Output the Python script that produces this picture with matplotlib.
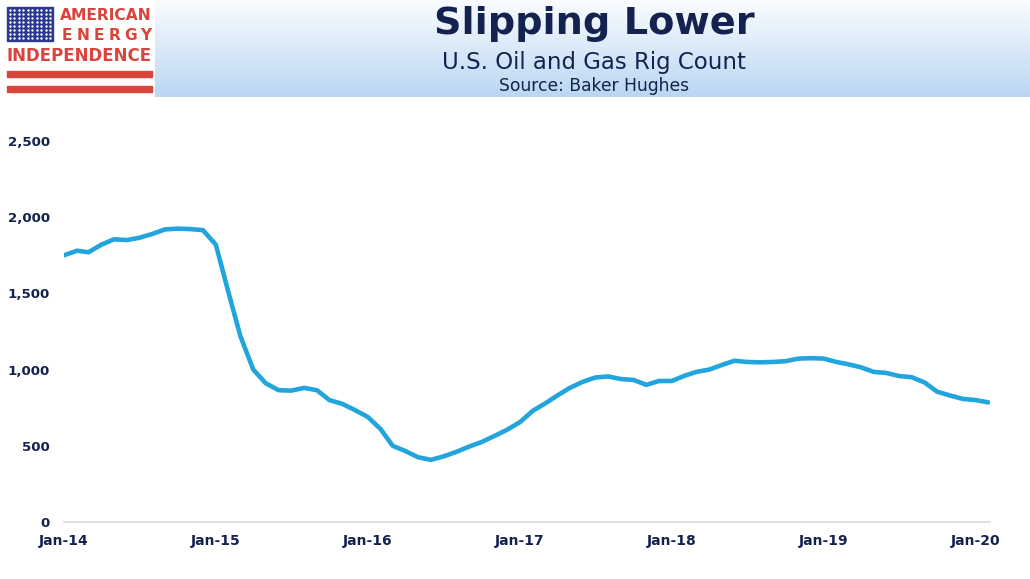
import numpy as np
import pandas as pd
import matplotlib
matplotlib.use("Agg")
import matplotlib.pyplot as plt
import matplotlib.dates as mdates
from matplotlib.patches import Rectangle

# monthly rig count, Jan 2014 .. Feb 2020
months = pd.date_range("2014-01-01", "2020-02-01", freq="MS")
rigs = [1750, 1780, 1770, 1820, 1855, 1850, 1865, 1890, 1920, 1925, 1922, 1915,
        1820, 1500, 1220, 1000, 910, 865, 862, 880, 865, 800, 775, 735,
        690, 610, 500, 465, 425, 408, 430, 460, 495, 525, 565, 605,
        655, 730, 775, 830, 880, 920, 948, 955, 938, 932, 900, 925,
        925, 960, 985, 1000, 1030, 1058, 1050, 1048, 1050, 1055, 1072, 1075,
        1072, 1050, 1035, 1015, 985, 978, 958, 950, 915, 855, 830, 808,
        800, 785]

title = "Slipping Lower"
subtitle = "U.S. Oil and Gas Rig Count"
source = "Source: Baker Hughes"
yticks = [0, 500, 1000, 1500, 2000, 2500]

navy = "#14224f"
line_blue = "#22a5dc"
red = "#d9443c"

W, H = 1030, 579
fig = plt.figure(figsize=(W / 100, H / 100), dpi=100)
fig.patch.set_facecolor("white")

#%% header band with gradient
hdr = fig.add_axes([155 / W, 1 - 97 / H, 1 - 155 / W, 97 / H])
grad = np.linspace(0, 1, 100)[:, None]
top = np.array([0.98, 0.99, 1.0])
bot = np.array([0.73, 0.84, 0.95])
img = top[None, None, :] * (1 - grad[:, :, None]) + bot[None, None, :] * grad[:, :, None]
img = np.repeat(img, 2, axis=1)
hdr.imshow(img, aspect="auto", extent=[0, 1, 1, 0])
hdr.set_xlim(0, 1)
hdr.set_ylim(1, 0)
hdr.axis("off")

fig.text(594 / W, 1 - 24 / H, title, ha="center", va="center",
         fontsize=27.5, fontweight="bold", color=navy)
fig.text(594 / W, 1 - 63 / H, subtitle, ha="center", va="center",
         fontsize=16.5, color=navy)
fig.text(594 / W, 1 - 86 / H, source, ha="center", va="center",
         fontsize=12.3, color=navy)

#%% logo
logo = fig.add_axes([0, 1 - 97 / H, 155 / W, 97 / H])
logo.set_xlim(0, 155)
logo.set_ylim(97, 0)
logo.axis("off")
logo.add_patch(Rectangle((0, 0), 155, 97, color="white"))
logo.add_patch(Rectangle((7, 7), 46, 34, color="#2b3990"))
sx, sy = np.meshgrid(np.linspace(10, 50, 10), np.linspace(10, 38, 8))
logo.scatter(sx.ravel(), sy.ravel(), s=3, color="white", lw=0)
logo.add_patch(Rectangle((7, 71), 145, 6, color=red))
logo.add_patch(Rectangle((7, 86), 145, 6, color=red))
logo.text(152, 16, "AMERICAN", ha="right", va="center", color=red,
          fontsize=11.2, fontweight="bold", family="DejaVu Sans")
for i, ch in enumerate("ENERGY"):
    logo.text(67 + i * 15.8, 36, ch, ha="center", va="center", color=red,
              fontsize=11.2, fontweight="bold", family="DejaVu Sans")
logo.text(7, 56, "INDEPENDENCE", ha="left", va="center", color=red,
          fontsize=12, fontweight="bold", family="DejaVu Sans")

#%% chart
ax = fig.add_axes([64 / W, 1 - 522 / H, (990 - 64) / W, (522 - 141) / H])
ax.plot(months, rigs, color=line_blue, lw=3.3, solid_capstyle="round")
ax.set_ylim(0, 2500)
ax.set_xlim(pd.Timestamp("2014-01-01"), pd.Timestamp("2020-02-05"))
ax.set_yticks(yticks)
ax.set_yticklabels([f"{v:,}" for v in yticks])
ax.xaxis.set_major_locator(mdates.YearLocator())
ax.xaxis.set_major_formatter(mdates.DateFormatter("Jan-%y"))
for s in ["top", "right", "left"]:
    ax.spines[s].set_visible(False)
ax.spines["bottom"].set_color("#d9d9d9")
ax.spines["bottom"].set_linewidth(1.2)
ax.tick_params(length=0, labelcolor=navy)
ax.tick_params(axis="y", pad=10, labelsize=9.6)
ax.tick_params(axis="x", pad=9, labelsize=10)
for lab in ax.get_xticklabels() + ax.get_yticklabels():
    lab.set_fontweight("bold")
ax.set_facecolor("none")

fig.savefig("out.png", dpi=100, facecolor="white")
